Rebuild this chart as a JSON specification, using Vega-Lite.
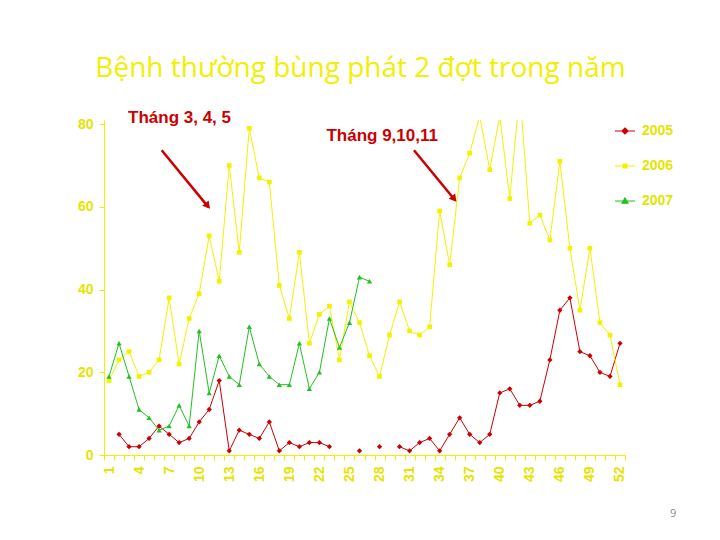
{
  "$schema": "https://vega.github.io/schema/vega-lite/v6.json",
  "width": 521,
  "height": 335,
  "autosize": {"type": "none"},
  "padding": {"left": 104, "top": 120, "right": 95, "bottom": 85},
  "background": "white",
  "title": {
    "text": "Bệnh thường bùng phát 2 đợt trong năm",
    "font": "Open Sans",
    "fontSize": 28,
    "fontWeight": "normal",
    "color": "#f0f000",
    "anchor": "middle",
    "frame": "group",
    "offset": 26,
    "dx": -4
  },
  "layer": [
    {
      "data": {
        "values": [
          {"series": "2005", "week": 2, "cases": 5},
          {"series": "2005", "week": 3, "cases": 2},
          {"series": "2005", "week": 4, "cases": 2},
          {"series": "2005", "week": 5, "cases": 4},
          {"series": "2005", "week": 6, "cases": 7},
          {"series": "2005", "week": 7, "cases": 5},
          {"series": "2005", "week": 8, "cases": 3},
          {"series": "2005", "week": 9, "cases": 4},
          {"series": "2005", "week": 10, "cases": 8},
          {"series": "2005", "week": 11, "cases": 11},
          {"series": "2005", "week": 12, "cases": 18},
          {"series": "2005", "week": 13, "cases": 1},
          {"series": "2005", "week": 14, "cases": 6},
          {"series": "2005", "week": 15, "cases": 5},
          {"series": "2005", "week": 16, "cases": 4},
          {"series": "2005", "week": 17, "cases": 8},
          {"series": "2005", "week": 18, "cases": 1},
          {"series": "2005", "week": 19, "cases": 3},
          {"series": "2005", "week": 20, "cases": 2},
          {"series": "2005", "week": 21, "cases": 3},
          {"series": "2005", "week": 22, "cases": 3},
          {"series": "2005", "week": 23, "cases": 2},
          {"series": "2005", "week": 24, "cases": null},
          {"series": "2005", "week": 25, "cases": null},
          {"series": "2005", "week": 26, "cases": 1},
          {"series": "2005", "week": 27, "cases": null},
          {"series": "2005", "week": 28, "cases": 2},
          {"series": "2005", "week": 29, "cases": null},
          {"series": "2005", "week": 30, "cases": 2},
          {"series": "2005", "week": 31, "cases": 1},
          {"series": "2005", "week": 32, "cases": 3},
          {"series": "2005", "week": 33, "cases": 4},
          {"series": "2005", "week": 34, "cases": 1},
          {"series": "2005", "week": 35, "cases": 5},
          {"series": "2005", "week": 36, "cases": 9},
          {"series": "2005", "week": 37, "cases": 5},
          {"series": "2005", "week": 38, "cases": 3},
          {"series": "2005", "week": 39, "cases": 5},
          {"series": "2005", "week": 40, "cases": 15},
          {"series": "2005", "week": 41, "cases": 16},
          {"series": "2005", "week": 42, "cases": 12},
          {"series": "2005", "week": 43, "cases": 12},
          {"series": "2005", "week": 44, "cases": 13},
          {"series": "2005", "week": 45, "cases": 23},
          {"series": "2005", "week": 46, "cases": 35},
          {"series": "2005", "week": 47, "cases": 38},
          {"series": "2005", "week": 48, "cases": 25},
          {"series": "2005", "week": 49, "cases": 24},
          {"series": "2005", "week": 50, "cases": 20},
          {"series": "2005", "week": 51, "cases": 19},
          {"series": "2005", "week": 52, "cases": 27},
          {"series": "2006", "week": 1, "cases": 18},
          {"series": "2006", "week": 2, "cases": 23},
          {"series": "2006", "week": 3, "cases": 25},
          {"series": "2006", "week": 4, "cases": 19},
          {"series": "2006", "week": 5, "cases": 20},
          {"series": "2006", "week": 6, "cases": 23},
          {"series": "2006", "week": 7, "cases": 38},
          {"series": "2006", "week": 8, "cases": 22},
          {"series": "2006", "week": 9, "cases": 33},
          {"series": "2006", "week": 10, "cases": 39},
          {"series": "2006", "week": 11, "cases": 53},
          {"series": "2006", "week": 12, "cases": 42},
          {"series": "2006", "week": 13, "cases": 70},
          {"series": "2006", "week": 14, "cases": 49},
          {"series": "2006", "week": 15, "cases": 79},
          {"series": "2006", "week": 16, "cases": 67},
          {"series": "2006", "week": 17, "cases": 66},
          {"series": "2006", "week": 18, "cases": 41},
          {"series": "2006", "week": 19, "cases": 33},
          {"series": "2006", "week": 20, "cases": 49},
          {"series": "2006", "week": 21, "cases": 27},
          {"series": "2006", "week": 22, "cases": 34},
          {"series": "2006", "week": 23, "cases": 36},
          {"series": "2006", "week": 24, "cases": 23},
          {"series": "2006", "week": 25, "cases": 37},
          {"series": "2006", "week": 26, "cases": 32},
          {"series": "2006", "week": 27, "cases": 24},
          {"series": "2006", "week": 28, "cases": 19},
          {"series": "2006", "week": 29, "cases": 29},
          {"series": "2006", "week": 30, "cases": 37},
          {"series": "2006", "week": 31, "cases": 30},
          {"series": "2006", "week": 32, "cases": 29},
          {"series": "2006", "week": 33, "cases": 31},
          {"series": "2006", "week": 34, "cases": 59},
          {"series": "2006", "week": 35, "cases": 46},
          {"series": "2006", "week": 36, "cases": 67},
          {"series": "2006", "week": 37, "cases": 73},
          {"series": "2006", "week": 38, "cases": 82},
          {"series": "2006", "week": 39, "cases": 69},
          {"series": "2006", "week": 40, "cases": 82},
          {"series": "2006", "week": 41, "cases": 62},
          {"series": "2006", "week": 42, "cases": 88},
          {"series": "2006", "week": 43, "cases": 56},
          {"series": "2006", "week": 44, "cases": 58},
          {"series": "2006", "week": 45, "cases": 52},
          {"series": "2006", "week": 46, "cases": 71},
          {"series": "2006", "week": 47, "cases": 50},
          {"series": "2006", "week": 48, "cases": 35},
          {"series": "2006", "week": 49, "cases": 50},
          {"series": "2006", "week": 50, "cases": 32},
          {"series": "2006", "week": 51, "cases": 29},
          {"series": "2006", "week": 52, "cases": 17},
          {"series": "2007", "week": 1, "cases": 19},
          {"series": "2007", "week": 2, "cases": 27},
          {"series": "2007", "week": 3, "cases": 19},
          {"series": "2007", "week": 4, "cases": 11},
          {"series": "2007", "week": 5, "cases": 9},
          {"series": "2007", "week": 6, "cases": 6},
          {"series": "2007", "week": 7, "cases": 7},
          {"series": "2007", "week": 8, "cases": 12},
          {"series": "2007", "week": 9, "cases": 7},
          {"series": "2007", "week": 10, "cases": 30},
          {"series": "2007", "week": 11, "cases": 15},
          {"series": "2007", "week": 12, "cases": 24},
          {"series": "2007", "week": 13, "cases": 19},
          {"series": "2007", "week": 14, "cases": 17},
          {"series": "2007", "week": 15, "cases": 31},
          {"series": "2007", "week": 16, "cases": 22},
          {"series": "2007", "week": 17, "cases": 19},
          {"series": "2007", "week": 18, "cases": 17},
          {"series": "2007", "week": 19, "cases": 17},
          {"series": "2007", "week": 20, "cases": 27},
          {"series": "2007", "week": 21, "cases": 16},
          {"series": "2007", "week": 22, "cases": 20},
          {"series": "2007", "week": 23, "cases": 33},
          {"series": "2007", "week": 24, "cases": 26},
          {"series": "2007", "week": 25, "cases": 32},
          {"series": "2007", "week": 26, "cases": 43},
          {"series": "2007", "week": 27, "cases": 42}
        ]
      },
      "encoding": {
        "x": {
          "field": "week",
          "type": "quantitative",
          "scale": {"domain": [0.5, 52.5], "nice": false, "zero": false},
          "axis": {
            "title": null,
            "grid": false,
            "tickCount": 1000,
            "values": [0.5, 1, 1.5, 2.5, 3.5, 4, 4.5, 5.5, 6.5, 7, 7.5, 8.5, 9.5, 10, 10.5, 11.5, 12.5, 13, 13.5, 14.5, 15.5, 16, 16.5, 17.5, 18.5, 19, 19.5, 20.5, 21.5, 22, 22.5, 23.5, 24.5, 25, 25.5, 26.5, 27.5, 28, 28.5, 29.5, 30.5, 31, 31.5, 32.5, 33.5, 34, 34.5, 35.5, 36.5, 37, 37.5, 38.5, 39.5, 40, 40.5, 41.5, 42.5, 43, 43.5, 44.5, 45.5, 46, 46.5, 47.5, 48.5, 49, 49.5, 50.5, 51.5, 52, 52.5],
            "labelExpr": "datum.value % 1 == 0 ? format(datum.value, 'd') : ''",
            "tickOpacity": {"condition": {"test": "datum.value % 1 == 0", "value": 0}, "value": 1},
            "domainColor": "#f0f000",
            "tickColor": "#f0f000",
            "tickSize": 5,
            "labelAngle": 270,
            "labelColor": "#e4e400",
            "labelFont": "Liberation Sans",
            "labelFontWeight": "bold",
            "labelFontSize": 14,
            "labelPadding": 6,
            "labelOverlap": false,
            "labelBound": false,
            "labelFlush": false
          }
        },
        "y": {
          "field": "cases",
          "type": "quantitative",
          "scale": {"domain": [0, 81], "nice": false},
          "axis": {
            "title": null,
            "grid": false,
            "values": [0, 20, 40, 60, 80],
            "domainColor": "#f0f000",
            "tickColor": "#f0f000",
            "tickSize": 5,
            "labelColor": "#e4e400",
            "labelFont": "Liberation Sans",
            "labelFontWeight": "bold",
            "labelFontSize": 14,
            "labelPadding": 6
          }
        },
        "color": {
          "field": "series",
          "type": "nominal",
          "scale": {"domain": ["2005", "2006", "2007"], "range": ["#cc0000", "#f2f200", "#22c022"]},
          "legend": {
            "title": null,
            "orient": "none",
            "legendX": 510,
            "legendY": 0,
            "padding": 0,
            "symbolSize": 400,
            "rowPadding": 17,
            "labelOffset": 6,
            "labelFont": "Liberation Sans",
            "labelFontWeight": "bold",
            "labelFontSize": 14,
            "labelColor": "#e4e400",
            "encode": {
              "symbols": {
                "update": {
                  "shape": {"signal": "datum.value == '2005' ? 'M-1,0H1M0,-0.3L0.3,0L0,0.3L-0.3,0Z' : datum.value == '2006' ? 'M-1,0H1M-0.2,-0.2H0.2V0.2H-0.2Z' : 'M-1,0H1M0,-0.3L0.3,0.22H-0.3Z'"},
                  "fill": {"scale": "color", "field": "value"},
                  "stroke": {"scale": "color", "field": "value"},
                  "strokeWidth": {"value": 1.2},
                  "opacity": {"value": 1}
                }
              }
            }
          }
        }
      },
      "layer": [
        {"mark": {"type": "line", "strokeWidth": 1, "clip": true}},
        {
          "transform": [{"filter": "datum.series == '2005'"}],
          "mark": {"type": "point", "shape": "diamond", "filled": true, "opacity": 1, "size": 28, "clip": true}
        },
        {
          "transform": [{"filter": "datum.series == '2006'"}],
          "mark": {"type": "point", "shape": "square", "filled": true, "opacity": 1, "size": 22, "clip": true}
        },
        {
          "transform": [{"filter": "datum.series == '2007'"}],
          "mark": {"type": "point", "shape": "triangle-up", "filled": true, "opacity": 1, "size": 28, "clip": true}
        }
      ]
    },
    {
      "data": {"values": [{}]},
      "mark": {"type": "text", "text": "Tháng 3, 4, 5", "align": "left", "baseline": "alphabetic", "font": "Liberation Sans", "fontWeight": "bold", "fontSize": 17, "color": "#cc0000"},
      "encoding": {"x": {"datum": 2.9, "type": "quantitative"}, "y": {"datum": 80.3, "type": "quantitative"}}
    },
    {
      "data": {"values": [{}]},
      "mark": {"type": "text", "text": "Tháng 9,10,11", "align": "left", "baseline": "alphabetic", "font": "Liberation Sans", "fontWeight": "bold", "fontSize": 17, "color": "#cc0000"},
      "encoding": {"x": {"datum": 22.7, "type": "quantitative"}, "y": {"datum": 76.0, "type": "quantitative"}}
    },
    {
      "data": {"values": [{}]},
      "mark": {"type": "rule", "color": "#cc0000", "strokeWidth": 2.5},
      "encoding": {
        "x": {"datum": 6.26, "type": "quantitative"},
        "y": {"datum": 73.7, "type": "quantitative"},
        "x2": {"datum": 10.9},
        "y2": {"datum": 60.0}
      }
    },
    {
      "data": {"values": [{}]},
      "mark": {"type": "point", "shape": "triangle-down", "filled": true, "opacity": 1, "color": "#cc0000", "size": 70, "angle": 321},
      "encoding": {"x": {"datum": 10.85, "type": "quantitative"}, "y": {"datum": 60.2, "type": "quantitative"}}
    },
    {
      "data": {"values": [{}]},
      "mark": {"type": "rule", "color": "#cc0000", "strokeWidth": 2.5},
      "encoding": {
        "x": {"datum": 31.44, "type": "quantitative"},
        "y": {"datum": 73.7, "type": "quantitative"},
        "x2": {"datum": 35.5},
        "y2": {"datum": 61.7}
      }
    },
    {
      "data": {"values": [{}]},
      "mark": {"type": "point", "shape": "triangle-down", "filled": true, "opacity": 1, "color": "#cc0000", "size": 70, "angle": 321},
      "encoding": {"x": {"datum": 35.45, "type": "quantitative"}, "y": {"datum": 61.9, "type": "quantitative"}}
    },
    {
      "data": {"values": [{}]},
      "mark": {"type": "text", "text": "9", "align": "center", "baseline": "middle", "font": "Open Sans", "fontSize": 11, "color": "#8c8c8c"},
      "encoding": {"x": {"datum": 57.3, "type": "quantitative"}, "y": {"datum": -14.3, "type": "quantitative"}}
    }
  ],
  "config": {
    "view": {"stroke": null}
  }
}
